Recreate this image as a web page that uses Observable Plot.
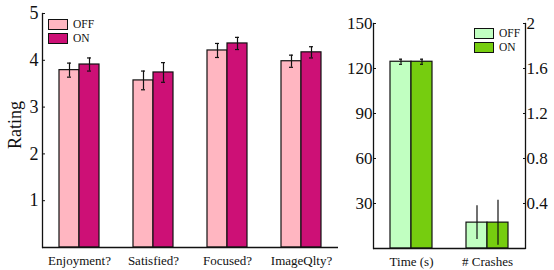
<!DOCTYPE html>
<html><head><meta charset="utf-8">
<script src="https://cdn.jsdelivr.net/npm/d3@7"></script>
<script src="https://cdn.jsdelivr.net/npm/@observablehq/plot@0.6"></script>
<style>
body{margin:0;background:#fff;font-family:'Liberation Serif';color:#111;}
#wrap{position:relative;width:554px;height:270px;overflow:hidden;}
#left,#right{position:absolute;top:0;}
#left{left:0}#right{left:345px}
.ylab{position:absolute;left:15px;top:125px;font-size:18px;transform:translate(-50%,-50%) rotate(-90deg);white-space:nowrap;}
.legend{position:absolute;font-size:11.5px;line-height:1;}
.legend .row{display:flex;align-items:center;height:13.5px;}
.legend .sw{width:18px;height:9px;border:1px solid #111;margin-right:5px;}
</style></head><body>
<div id="wrap"><div id="left"></div><div id="right"></div>
<div class="ylab">Rating</div>
<div class="legend" id="legL" style="left:48px;top:18px"></div>
<div class="legend" id="legR" style="left:474px;top:27px"></div>
</div>
<script>
// Left panel: questionnaire ratings
const questions = ["Enjoyment?", "Satisfied?", "Focused?", "ImageQlty?"];
const conditions = ["OFF", "ON"];
const ratingOff = [3.79, 3.57, 4.21, 3.98];
const ratingOn = [3.91, 3.74, 4.36, 4.17];
const ratingErrOff = [0.15, 0.20, 0.15, 0.13];
const ratingErrOn = [0.14, 0.21, 0.13, 0.12];
const ratingTicks = [1, 2, 3, 4, 5];
const pinkColors = ["#FFB6C1", "#CD1076"];

// Right panel: time (left axis) and crashes (right axis)
const metrics = ["Time (s)", "# Crashes"];
const timeValues = [124.5, 124.5];
const timeErr = [1.7, 1.7];
const crashValues = [0.23, 0.23];
const crashErr = [0.15, 0.2];
const timeTicks = [30, 60, 90, 120, 150];
const crashTicks = [0.4, 0.8, 1.2, 1.6, 2];
const greenColors = ["#C1FFC1", "#76CD0F"];

const font = "Liberation Serif";
const ink = "#111";

const leftRows = questions.flatMap((q, i) => [
  {q, c: "OFF", v: ratingOff[i], e: ratingErrOff[i]},
  {q, c: "ON", v: ratingOn[i], e: ratingErrOn[i]}
]);

const leftPlot = Plot.plot({
  width: 345, height: 270,
  marginLeft: 41, marginRight: 6, marginTop: 13, marginBottom: 23,
  style: {fontFamily: font, fontSize: "16px", color: ink, background: "transparent", overflow: "visible"},
  fx: {domain: questions, padding: 0, label: null},
  x: {domain: conditions, paddingInner: 0, paddingOuter: 0.774, axis: null},
  y: {domain: [0, 5]},
  color: {domain: conditions, range: pinkColors},
  marks: [
    Plot.barY(leftRows, {fx: "q", x: "c", y: "v", fill: "c", stroke: ink, strokeWidth: 1.2}),
    Plot.ruleX(leftRows, {fx: "q", x: "c", y1: d => d.v - d.e, y2: d => d.v + d.e, stroke: ink, strokeWidth: 1.2}),
    Plot.tickY(leftRows, {fx: "q", x: "c", y: d => d.v - d.e, insetLeft: 8, insetRight: 8, stroke: ink, strokeWidth: 1.2}),
    Plot.tickY(leftRows, {fx: "q", x: "c", y: d => d.v + d.e, insetLeft: 8, insetRight: 8, stroke: ink, strokeWidth: 1.2}),
    Plot.ruleY([0], {stroke: ink, strokeWidth: 1.3}),
    Plot.frame({anchor: "left", facetAnchor: "left", stroke: ink, strokeWidth: 1.3}),
    Plot.axisY({ticks: ratingTicks, tickFormat: d3.format("d"), tickSize: -3, tickPadding: 7, label: null, fontSize: 18, facetAnchor: "left", stroke: ink}),
    Plot.axisFx({anchor: "bottom", tickSize: 0, tickPadding: 8, label: null, fontSize: 13})
  ]
});
document.getElementById("left").append(leftPlot);

const k = timeTicks[timeTicks.length - 1] / crashTicks[crashTicks.length - 1];
const rightRows = [
  ...conditions.map((c, i) => ({m: metrics[0], c, v: timeValues[i], e: timeErr[i], cap: true})),
  ...conditions.map((c, i) => ({m: metrics[1], c, v: crashValues[i] * k, e: crashErr[i] * k, cap: false}))
];
const fmt = d3.format(".1~f");

const rightPlot = Plot.plot({
  width: 209, height: 270,
  marginLeft: 28, marginRight: 29, marginTop: 23, marginBottom: 22,
  style: {fontFamily: font, fontSize: "16px", color: ink, background: "transparent", overflow: "visible"},
  fx: {domain: metrics, padding: 0, label: null},
  x: {domain: conditions, paddingInner: 0, paddingOuter: 0.767, axis: null},
  y: {domain: [0, timeTicks[timeTicks.length - 1]]},
  color: {domain: conditions, range: greenColors},
  marks: [
    Plot.barY(rightRows, {fx: "m", x: "c", y: "v", fill: "c", stroke: ink, strokeWidth: 1.2}),
    Plot.ruleX(rightRows, {fx: "m", x: "c", y1: d => d.v - d.e, y2: d => d.v + d.e, stroke: ink, strokeWidth: 1.2}),
    Plot.tickY(rightRows.filter(d => d.cap), {fx: "m", x: "c", y: d => d.v - d.e, insetLeft: 9, insetRight: 9, stroke: ink, strokeWidth: 1.2}),
    Plot.tickY(rightRows.filter(d => d.cap), {fx: "m", x: "c", y: d => d.v + d.e, insetLeft: 9, insetRight: 9, stroke: ink, strokeWidth: 1.2}),
    Plot.ruleY([0], {stroke: ink, strokeWidth: 1.3}),
    Plot.frame({anchor: "left", facetAnchor: "left", stroke: ink, strokeWidth: 1.3}),
    Plot.frame({anchor: "right", facetAnchor: "right", stroke: ink, strokeWidth: 1.3}),
    Plot.axisY({ticks: timeTicks, tickSize: -3, tickPadding: 4, label: null, fontSize: 17, facetAnchor: "left", stroke: ink}),
    Plot.axisY({anchor: "right", ticks: crashTicks.map(t => t * k), tickFormat: d => fmt(d / k), tickSize: -3, tickPadding: 4, label: null, fontSize: 17, facetAnchor: "right", stroke: ink}),
    Plot.axisFx({anchor: "bottom", tickSize: 0, tickPadding: 8, label: null, fontSize: 13})
  ]
});
document.getElementById("right").append(rightPlot);

function legend(id, colors) {
  const el = document.getElementById(id);
  conditions.forEach((c, i) => {
    const row = document.createElement("div");
    row.className = "row";
    row.innerHTML = `<span class="sw" style="background:${colors[i]}"></span><span>${c}</span>`;
    el.append(row);
  });
}
legend("legL", pinkColors);
legend("legR", greenColors);
</script>
</body></html>
